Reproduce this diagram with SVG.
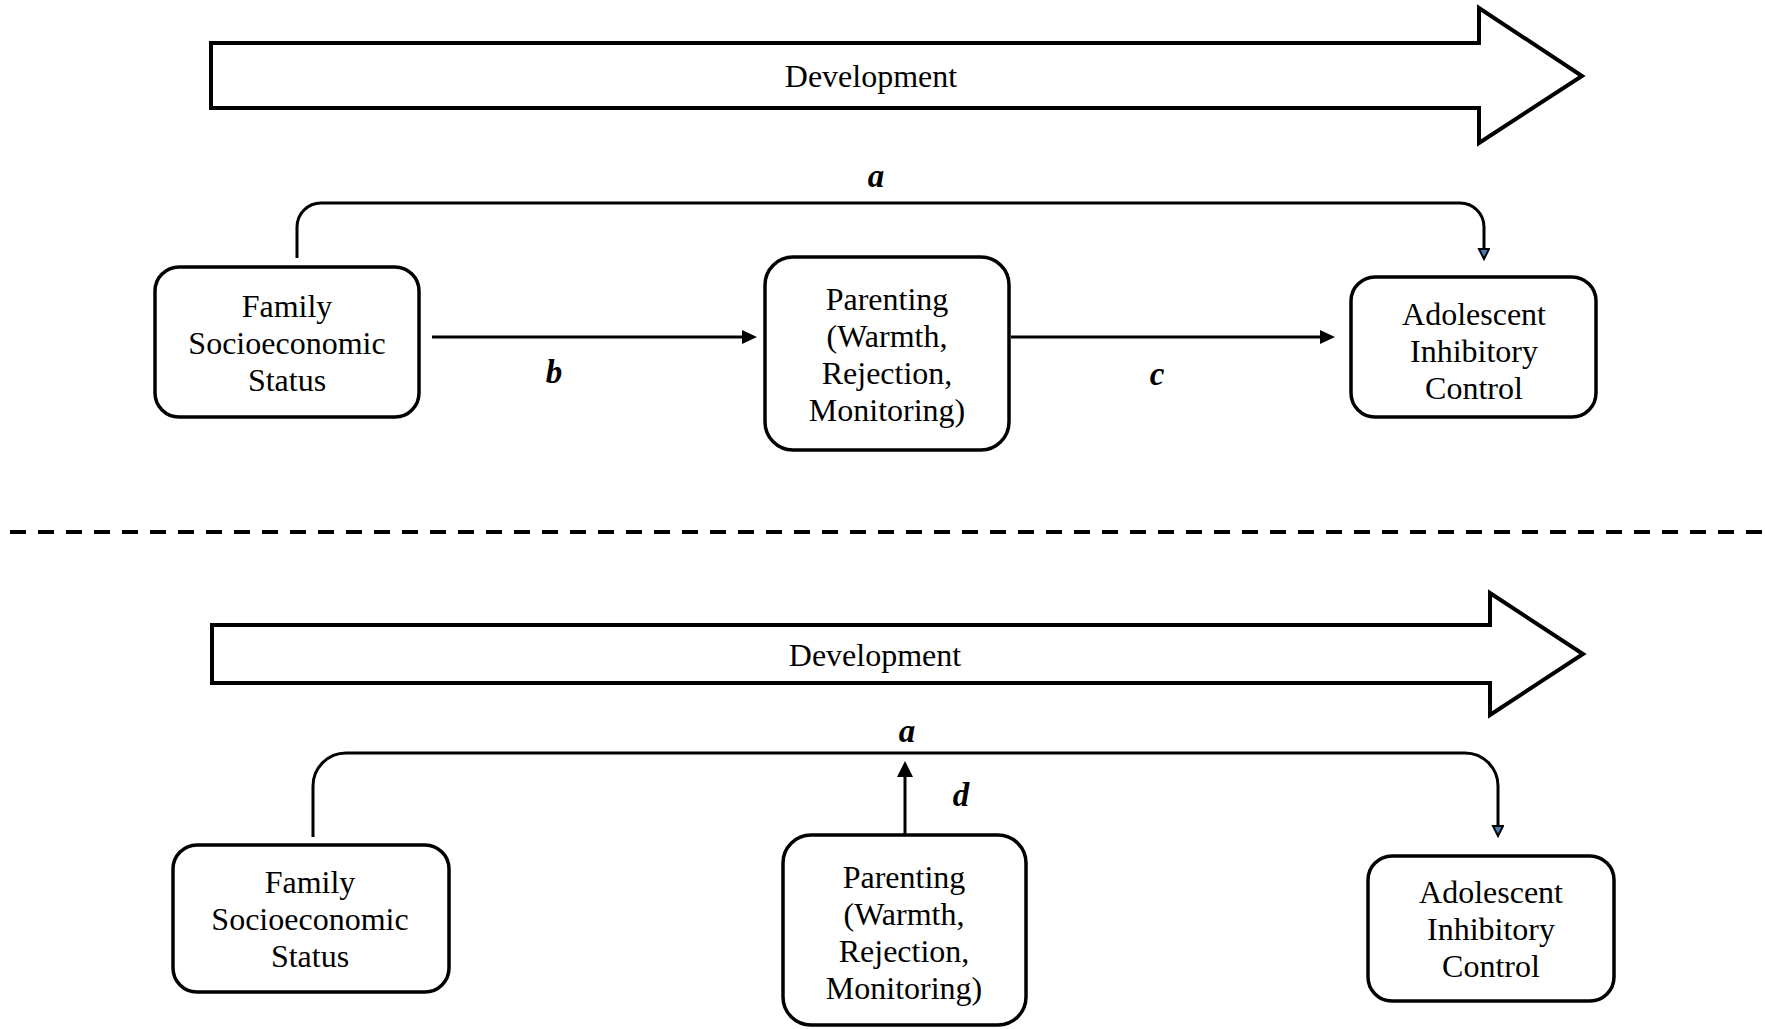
<svg xmlns="http://www.w3.org/2000/svg" width="1765" height="1029" viewBox="0 0 1765 1029">
<style>
  .bg{fill:#fff}
  .box{fill:#fff;stroke:#000;stroke-width:3.5}
  .big{fill:#fff;stroke:#000;stroke-width:4;stroke-linejoin:miter}
  .t{font-family:"Liberation Serif","Times New Roman",serif;font-size:32px;fill:#000;text-anchor:middle}
  .lbl{font-family:"Liberation Serif","Times New Roman",serif;font-size:33px;font-weight:bold;font-style:italic;fill:#000;text-anchor:middle}
  .conn{fill:none;stroke:#000;stroke-width:3}
  .dash{fill:none;stroke:#000;stroke-width:4;stroke-dasharray:16 12}
</style>
<defs>
  <marker id="ah" markerUnits="userSpaceOnUse" markerWidth="16" markerHeight="14" refX="10" refY="7" orient="auto">
    <path d="M0,0 L15,7 L0,14 z" fill="#000"/>
  </marker>
  <marker id="ahd" markerUnits="userSpaceOnUse" markerWidth="18" markerHeight="18" refX="10" refY="8" orient="auto">
    <path d="M0,0 L16,8 L0,16 z" fill="#000"/>
  </marker>
  <marker id="ahs" markerUnits="userSpaceOnUse" markerWidth="14" markerHeight="14" refX="3" refY="6" orient="auto">
    <path d="M1,1 L11,6 L1,11 z" fill="#4A7EBB" stroke="#000" stroke-width="2" stroke-linejoin="miter"/>
  </marker>
</defs>
<rect class="bg" x="0" y="0" width="1765" height="1029"/>

<g id="development-top">
  <path class="big" d="M211,43 H1479 V8 L1582,76 L1479,143 V108 H211 Z"/>
  <text class="t" x="871" y="87">Development</text>
</g>

<g id="development-bottom">
  <path class="big" d="M212,625 H1490 V593 L1583,654 L1490,715 V683 H212 Z"/>
  <text class="t" x="875" y="666">Development</text>
</g>

<g id="separator">
  <line class="dash" x1="10" y1="532" x2="1765" y2="532"/>
</g>

<g id="connectors">
  <path class="conn" d="M297,258 V227 A24,24 0 0 1 321,203 H1460 A24,24 0 0 1 1484,227 V251" marker-end="url(#ahs)"/>
  <line class="conn" x1="432" y1="337" x2="752" y2="337" marker-end="url(#ah)"/>
  <line class="conn" x1="1011" y1="337" x2="1330" y2="337" marker-end="url(#ah)"/>
  <path class="conn" d="M313,837 V786 A33,33 0 0 1 346,753 H1465 A33,33 0 0 1 1498,786 V828" marker-end="url(#ahs)"/>
  <line class="conn" x1="905" y1="835" x2="905" y2="767" marker-end="url(#ahd)"/>
  <text class="lbl" x="876" y="187">a</text>
  <text class="lbl" x="554" y="383">b</text>
  <text class="lbl" x="1157" y="385">c</text>
  <text class="lbl" x="907" y="742">a</text>
  <text class="lbl" x="961" y="806">d</text>
</g>

<g id="ses-top">
  <rect class="box" x="155" y="267" width="264" height="150" rx="24" ry="24"/>
  <text class="t" x="287" y="317">Family</text>
  <text class="t" x="287" y="354">Socioeconomic</text>
  <text class="t" x="287" y="391">Status</text>
</g>

<g id="parenting-top">
  <rect class="box" x="765" y="257" width="244" height="193" rx="28" ry="28"/>
  <text class="t" x="887" y="310">Parenting</text>
  <text class="t" x="887" y="347">(Warmth,</text>
  <text class="t" x="887" y="384">Rejection,</text>
  <text class="t" x="887" y="421">Monitoring)</text>
</g>

<g id="inhibitory-top">
  <rect class="box" x="1351" y="277" width="245" height="140" rx="24" ry="24"/>
  <text class="t" x="1474" y="325">Adolescent</text>
  <text class="t" x="1474" y="362">Inhibitory</text>
  <text class="t" x="1474" y="399">Control</text>
</g>

<g id="ses-bottom">
  <rect class="box" x="173" y="845" width="276" height="147" rx="24" ry="24"/>
  <text class="t" x="310" y="893">Family</text>
  <text class="t" x="310" y="930">Socioeconomic</text>
  <text class="t" x="310" y="967">Status</text>
</g>

<g id="parenting-bottom">
  <rect class="box" x="783" y="835" width="243" height="190" rx="28" ry="28"/>
  <text class="t" x="904" y="888">Parenting</text>
  <text class="t" x="904" y="925">(Warmth,</text>
  <text class="t" x="904" y="962">Rejection,</text>
  <text class="t" x="904" y="999">Monitoring)</text>
</g>

<g id="inhibitory-bottom">
  <rect class="box" x="1368" y="856" width="246" height="145" rx="24" ry="24"/>
  <text class="t" x="1491" y="903">Adolescent</text>
  <text class="t" x="1491" y="940">Inhibitory</text>
  <text class="t" x="1491" y="977">Control</text>
</g>
</svg>
